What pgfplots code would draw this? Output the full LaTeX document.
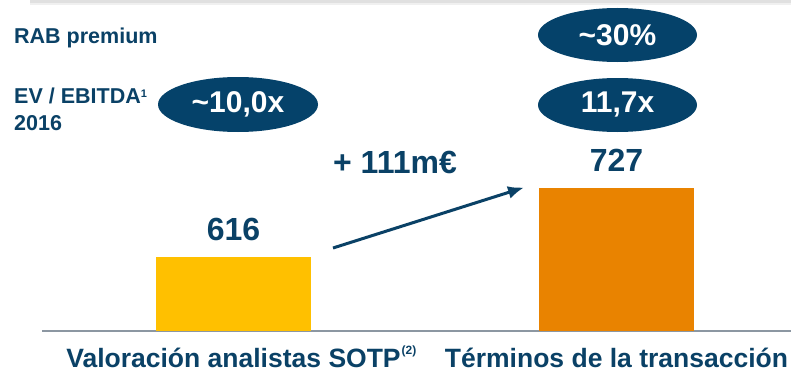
\documentclass[border=0pt]{standalone}
\usepackage{pgfplots}
\pgfplotsset{compat=1.18}
\usetikzlibrary{arrows.meta}
\usepackage{fontspec}
\setmainfont{Liberation Sans}
\definecolor{navy}{HTML}{0A4166}
\definecolor{ellip}{HTML}{05426A}
\definecolor{barY}{HTML}{FFC000}
\definecolor{barO}{HTML}{E98300}
\definecolor{axgray}{HTML}{8C97A2}
\newcommand{\fs}[1]{\fontsize{#1bp}{#1bp}\selectfont}
\begin{document}
\begin{tikzpicture}[x=1bp,y=1bp]
\useasboundingbox (0,0) rectangle (791,372);
% top shadow line
\fill[black!12] (30,372) rectangle (791,369);
\fill[black!6] (30,369) rectangle (791,367);
\begin{axis}[
  at={(42bp,41bp)}, anchor=south west,
  scale only axis, width=749bp, height=143bp,
  xmin=-0.5, xmax=1.4556, ymin=497, ymax=727,
  ybar, bar width=155bp, clip mode=individual,
  axis x line*=bottom, axis y line=none,
  x axis line style={draw=axgray, line width=2bp},
  xtick={0,1}, major tick length=0pt, ytick=\empty,
  xticklabels={{Valoración analistas SOTP\rlap{\hspace{1bp}\raisebox{13bp}{\fs{12}(2)}}},{Términos de la transacción}},
  xticklabel style={anchor=base, yshift=-36bp, inner sep=0pt, text=navy, font=\bfseries\fs{26.5}},
  nodes near coords={\bfseries\fs{32}\pgfmathprintnumber[assume math mode=true]{\pgfplotspointmeta}},
  every node near coord/.append style={anchor=base, yshift=17bp, inner sep=0pt, text=navy},
]
\addplot[fill=barY, draw=none, bar shift=0pt] coordinates {(0,616)};
\addplot[fill=barO, draw=none, bar shift=0pt] coordinates {(1,727)};
\end{axis}
% ellipses
\fill[ellip] (617.5,337) ellipse [x radius=79.5, y radius=27];
\fill[ellip] (617.5,267) ellipse [x radius=79.5, y radius=27];
\fill[ellip] (238,267.5) ellipse [x radius=80, y radius=27.5];
\node[text=white, font=\bfseries\fs{30}, inner sep=0] at (617.5,337) {\textasciitilde30\%};
\node[text=white, font=\bfseries\fs{30}, inner sep=0] at (617.5,267) {11,7x};
\node[text=white, font=\bfseries\fs{30}, inner sep=0] at (238,267.5) {\textasciitilde10,0x};
% left labels
\node[anchor=base west, inner sep=0, text=navy, font=\bfseries\fs{21.5}] at (14,329) {RAB premium};
\node[anchor=base west, inner sep=0, text=navy, font=\bfseries\fs{21.5}] at (14,269) {EV / EBITDA\raisebox{6bp}{\fs{11}1}};
\node[anchor=base west, inner sep=0, text=navy, font=\bfseries\fs{21.5}] at (14,242) {2016};
% change annotation
\node[anchor=base, inner sep=0, text=navy, font=\bfseries\fs{32}] at (395,199) {+ 111m€};
\draw[navy, line width=3bp, -{Latex[length=16bp,width=13bp]}] (333,124) -- (524,184.5);
\end{tikzpicture}
\end{document}
